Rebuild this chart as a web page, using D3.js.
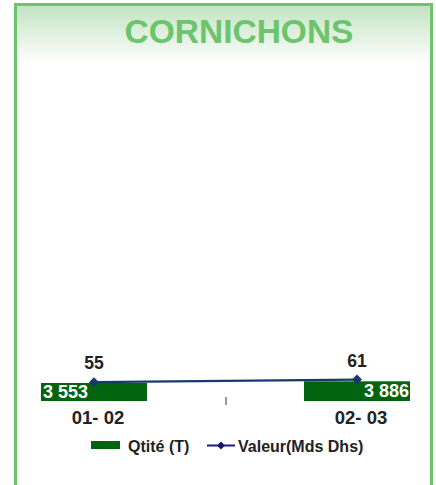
<!DOCTYPE html>
<html>
<head>
<meta charset="utf-8">
<script src="https://cdn.jsdelivr.net/npm/d3@7"></script>
<style>
  html, body { margin: 0; padding: 0; background: #ffffff; }
  svg { display: block; }
  text { font-family: Arial, "Liberation Sans", sans-serif; font-weight: bold; }
</style>
</head>
<body>
<div id="chart"></div>
<script>
const title = "CORNICHONS";
const categories = ["01- 02", "02- 03"];
const qtite = [3553, 3886];
const valeur = [55, 61];
const barLabels = ["3 553", "3 886"];
const seriesNames = ["Qtité (T)", "Valeur(Mds Dhs)"];

const W = 436, H = 485;
const svg = d3.select("#chart").append("svg").attr("width", W).attr("height", H);

// frame with gradient header
const defs = svg.append("defs");
const grad = defs.append("linearGradient").attr("id", "hdr").attr("x1", 0).attr("y1", 0).attr("x2", 0).attr("y2", 1);
grad.append("stop").attr("offset", "0%").attr("stop-color", "#c3e3c3");
grad.append("stop").attr("offset", "100%").attr("stop-color", "#ffffff");

svg.append("rect").attr("x", 17).attr("y", 6).attr("width", 413).attr("height", 58).attr("fill", "url(#hdr)");
svg.append("rect").attr("x", 15.5).attr("y", 4.5).attr("width", 416).attr("height", 500)
  .attr("fill", "none").attr("stroke", "#6cc46c").attr("stroke-width", 3);

svg.append("text").attr("x", 239).attr("y", 42.5).attr("text-anchor", "middle")
  .attr("font-size", 33.5).attr("fill", "#6cc46c").text(title);

// scales
const x = d3.scaleBand().domain(categories).range([-37.5, 488.5]).paddingInner(0).paddingOuter(0);
const barW = x.bandwidth() * 0.403;
const center = c => x(c) + x.bandwidth() / 2;
const yBar = d3.scaleLinear().domain([0, 70000]).range([401, 46]);
const yLine = d3.scaleLinear().domain([0, 800]).range([406, 59.5]);

const barColor = "#03640f";
const lineColor = "#163a6c";

// bars
svg.selectAll("rect.bar").data(categories).enter().append("rect")
  .attr("class", "bar")
  .attr("x", c => center(c) - barW / 2)
  .attr("width", barW)
  .attr("y", (c, i) => yBar(qtite[i]))
  .attr("height", (c, i) => yBar(0) - yBar(qtite[i]))
  .attr("fill", barColor);

// tick mark between categories
svg.append("line")
  .attr("x1", x(categories[1]) + 0.5).attr("x2", x(categories[1]) + 0.5)
  .attr("y1", yBar(0) - 4).attr("y2", yBar(0) + 4)
  .attr("stroke", "#333").attr("stroke-width", 1);

// category labels
svg.selectAll("text.cat").data(categories).enter().append("text")
  .attr("class", "cat")
  .attr("x", c => center(c) + 4)
  .attr("y", 424)
  .attr("text-anchor", "middle")
  .attr("font-size", 18.5)
  .attr("fill", "#222")
  .text(c => c);

// bar labels (white, inside)
svg.selectAll("text.blab").data(categories).enter().append("text")
  .attr("class", "blab")
  .attr("x", (c, i) => i === 0 ? center(c) - barW / 2 + 2 : center(c) + barW / 2 - 1)
  .attr("y", (c, i) => yBar(qtite[i]) + 15.5)
  .attr("text-anchor", (c, i) => i === 0 ? "start" : "end")
  .attr("font-size", 18)
  .attr("fill", "#ffffff")
  .text((c, i) => barLabels[i]);

// line
const line = d3.line().x((d, i) => center(categories[i])).y(d => yLine(d));
svg.append("path").datum(valeur).attr("d", line)
  .attr("fill", "none").attr("stroke", lineColor).attr("stroke-width", 2.3);

const diamond = d3.symbol().type(d3.symbolSquare).size(50);
svg.selectAll("path.mk").data(valeur).enter().append("path")
  .attr("class", "mk")
  .attr("d", diamond)
  .attr("transform", (d, i) => `translate(${center(categories[i])},${yLine(d)}) rotate(45)`)
  .attr("fill", lineColor);

// value labels
svg.selectAll("text.vlab").data(valeur).enter().append("text")
  .attr("class", "vlab")
  .attr("x", (d, i) => center(categories[i]))
  .attr("y", d => yLine(d) - 13)
  .attr("text-anchor", "middle")
  .attr("font-size", 17.5)
  .attr("fill", "#222")
  .text(d => d);

// legend
const lg = svg.append("g");
lg.append("rect").attr("x", 91).attr("y", 441).attr("width", 29).attr("height", 8).attr("fill", barColor);
lg.append("text").attr("x", 128).attr("y", 451.5).attr("font-size", 16).attr("fill", "#222").text(seriesNames[0]);
lg.append("line").attr("x1", 207).attr("x2", 235).attr("y1", 445.5).attr("y2", 445.5)
  .attr("stroke", "#1c1c88").attr("stroke-width", 2);
lg.append("path").attr("d", d3.symbol().type(d3.symbolSquare).size(32))
  .attr("transform", "translate(221,445.5) rotate(45)").attr("fill", "#14146e");
lg.append("text").attr("x", 238).attr("y", 451.5).attr("font-size", 16).attr("fill", "#222").text(seriesNames[1]);
</script>
</body>
</html>
